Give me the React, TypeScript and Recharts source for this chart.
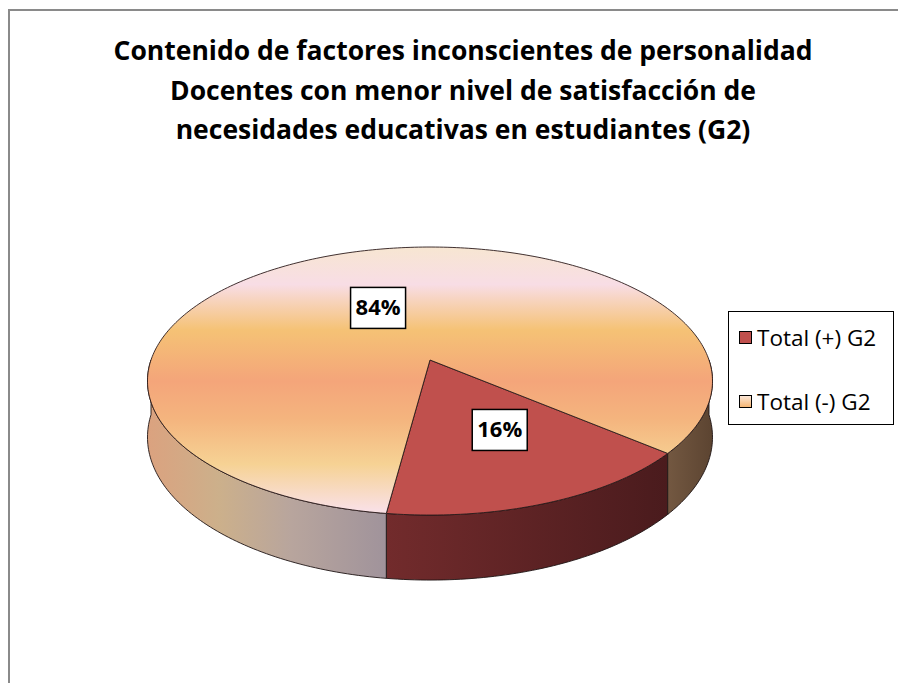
import React from 'react';
import { PieChart, Pie, Cell, Legend } from 'recharts';

const categories: string[] = ['Total (+) G2', 'Total (-) G2'];
const values: number[] = [16, 84];
const valueLabels: string[] = ['16%', '84%'];
const titleLines: string[] = [
  'Contenido de factores inconscientes de personalidad',
  'Docentes con menor nivel de satisfacción de',
  'necesidades educativas en estudiantes (G2)',
];
const sliceColors: string[] = ['#c0504d', '#f5b57d'];

const data = categories.map((name, i) => ({ name, value: values[i], label: valueLabels[i] }));

const FONT = '"Open Sans", Lato, sans-serif';
const P = 0.157; // perspective
const S = 0.4685; // vertical squash
const DEPTH = 54.8;

function project(cx: number, cy: number, r: number, angDeg: number) {
  const a = (angDeg * Math.PI) / 180;
  const u = Math.cos(a);
  const v = Math.sin(a);
  const k = 1 / (1 + P * v);
  return { x: cx + r * u * k, y: cy - r * S * v * k, k };
}

function arcPoints(cx: number, cy: number, r: number, a1: number, a2: number, depth = false) {
  const n = Math.max(2, Math.ceil(Math.abs(a2 - a1)));
  const pts: string[] = [];
  for (let i = 0; i <= n; i++) {
    const a = a1 + ((a2 - a1) * i) / n;
    const p = project(cx, cy, r, a);
    const y = depth ? p.y + DEPTH * p.k : p.y;
    pts.push(`${p.x.toFixed(2)},${y.toFixed(2)}`);
  }
  return pts;
}

const SliceShape = (props: any) => {
  const { cx, cy, outerRadius, startAngle, endAngle, index } = props;
  const lo = Math.min(startAngle, endAngle);
  const hi = Math.max(startAngle, endAngle);
  const sides: [number, number][] = [];
  for (let k = -2; k <= 1; k++) {
    const s1 = Math.max(lo, -180 + 360 * k);
    const s2 = Math.min(hi, 360 * k);
    if (s2 > s1) sides.push([s1, s2]);
  }
  const top = arcPoints(cx, cy, outerRadius, startAngle, endAngle);
  const topPath = `M${cx},${cy} L${top.join(' L')} Z`;
  const isRed = index === 0;
  const gid = `g${index}`;
  return (
    <g>
      <defs>
        <linearGradient id={`${gid}-top`} gradientUnits="userSpaceOnUse" x1="0" y1={cy - 113} x2="0" y2={cy + 155}>
          <stop offset="0" stopColor="#f7e6d2" />
          <stop offset="0.14" stopColor="#f8dde5" />
          <stop offset="0.31" stopColor="#f5c275" />
          <stop offset="0.5" stopColor="#f4a57a" />
          <stop offset="0.64" stopColor="#f4b47e" />
          <stop offset="0.81" stopColor="#f6d294" />
          <stop offset="0.98" stopColor="#f9e0e4" />
        </linearGradient>
        <linearGradient id={`${gid}-redside`} x1="0" y1="0" x2="1" y2="0">
          <stop offset="0" stopColor="#722b2c" />
          <stop offset="1" stopColor="#4a1b1d" />
        </linearGradient>
        <linearGradient id={`${gid}-leftside`} x1="0" y1="0" x2="1" y2="0">
          <stop offset="0" stopColor="#dba27f" />
          <stop offset="0.3" stopColor="#ccb08b" />
          <stop offset="0.6" stopColor="#b8a59d" />
          <stop offset="1" stopColor="#a0939b" />
        </linearGradient>
        <linearGradient id={`${gid}-rightside`} x1="0" y1="0" x2="1" y2="0">
          <stop offset="0" stopColor="#735841" />
          <stop offset="1" stopColor="#5c4431" />
        </linearGradient>
      </defs>
      {sides.map(([s1, s2], i) => {
        const t = arcPoints(cx, cy, outerRadius, s1, s2);
        const b = arcPoints(cx, cy, outerRadius, s2, s1, true);
        const d = `M${t.join(' L')} L${b.join(' L')} Z`;
        const mid = (s1 + s2) / 2;
        const norm = ((mid % 360) + 360) % 360;
        const fill = isRed
          ? `url(#${gid}-redside)`
          : norm > 270
          ? `url(#${gid}-rightside)`
          : `url(#${gid}-leftside)`;
        return <path key={i} d={d} fill={fill} stroke="#1e1414" strokeWidth={0.9} strokeLinejoin="round" />;
      })}
      <path
        d={topPath}
        fill={isRed ? sliceColors[0] : `url(#${gid}-top)`}
        stroke="#2a1a1a"
        strokeWidth={0.9}
        strokeLinejoin="round"
      />
    </g>
  );
};

const renderLabel = (props: any) => {
  const { cx, cy, midAngle, outerRadius, payload } = props;
  const p = project(cx, cy, outerRadius * 0.5, midAngle);
  const x = cx + (p.x - cx) * 1.18;
  const y = cy + (p.y - cy) * 0.98;
  const w = 55;
  const h = 41;
  return (
    <g>
      <rect x={x - w / 2} y={y - h / 2} width={w} height={h} fill="#ffffff" stroke="#000" strokeWidth={1.5} />
      <text
        x={x}
        y={y + 1}
        textAnchor="middle"
        dominantBaseline="middle"
        fontFamily={FONT}
        fontWeight={700}
        fontSize={22}
        fill="#000"
      >
        {payload.label}
      </text>
    </g>
  );
};

const LegendContent = (props: any) => {
  const payload = props.payload || [];
  return (
    <div
      style={{
        width: 166,
        height: 114,
        border: '1.5px solid #000',
        background: '#fff',
        boxSizing: 'border-box',
        position: 'relative',
        fontFamily: FONT,
      }}
    >
      {payload.map((entry: any, i: number) => (
        <div
          key={i}
          style={{
            position: 'absolute',
            left: 10,
            top: 13 + i * 64,
            display: 'flex',
            alignItems: 'center',
            height: 24,
          }}
        >
          <span
            style={{
              display: 'inline-block',
              width: 11,
              height: 11,
              border: '1px solid #000',
              background: i === 0 ? sliceColors[0] : 'linear-gradient(#fbe7d8, #f5b572)',
              marginRight: 5,
            }}
          />
          <span style={{ fontSize: 22.5, color: '#000', whiteSpace: 'nowrap' }}>{entry.value}</span>
        </div>
      ))}
    </div>
  );
};

export default function App() {
  return (
    <div style={{ position: 'relative', width: 898, height: 675, background: '#fff', overflow: 'hidden' }}>
      <div
        style={{
          position: 'absolute',
          left: 0,
          top: 1,
          width: 920,
          height: 700,
          borderLeft: '2px solid #8a8a8a',
          borderTop: '2px solid #8a8a8a',
        }}
      />
      <div
        style={{
          position: 'absolute',
          left: 0,
          top: 23,
          width: 910,
          textAlign: 'center',
          fontFamily: FONT,
          fontWeight: 700,
          fontSize: 26.5,
          lineHeight: '39.5px',
          color: '#000',
        }}
      >
        {titleLines.map((t, i) => (
          <div key={i}>{t}</div>
        ))}
      </div>
      <div style={{ position: 'absolute', left: 0, top: 0 }}>
        <PieChart width={898} height={675} margin={{ top: 0, right: 0, bottom: 0, left: 0 }}>
          <Pie
            data={data}
            dataKey="value"
            nameKey="name"
            cx={422}
            cy={352}
            outerRadius={279}
            startAngle={-40}
            endAngle={-400}
            isAnimationActive={false}
            shape={SliceShape}
            activeShape={SliceShape}
            inactiveShape={SliceShape}
            label={renderLabel}
            labelLine={false}
            stroke="none"
          >
            {data.map((d, i) => (
              <Cell key={d.name} fill={sliceColors[i]} />
            ))}
          </Pie>
          <Legend
            layout="vertical"
            content={<LegendContent />}
            wrapperStyle={{ position: 'absolute', left: 720, top: 303, width: 166, height: 114 }}
          />
        </PieChart>
      </div>
    </div>
  );
}
